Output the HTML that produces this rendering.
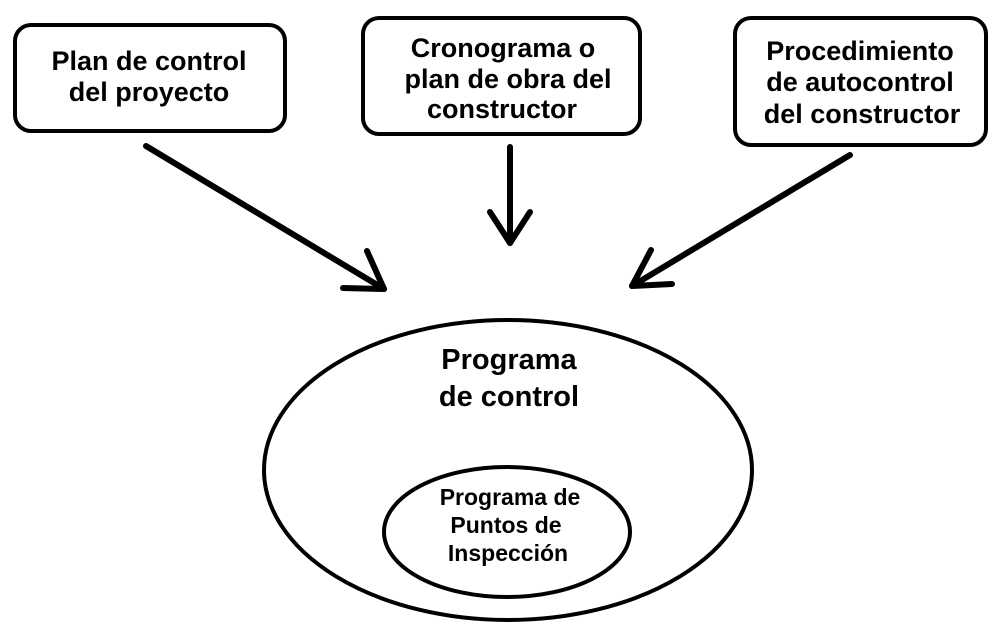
<!DOCTYPE html>
<html><head><meta charset="utf-8"><style>
body{margin:0;background:#fff;}
svg{display:block}
text{font-family:"Liberation Sans",Arial,sans-serif;font-weight:bold;fill:#000;text-anchor:middle}
</style></head><body>
<svg width="1007" height="637" viewBox="0 0 1007 637">
<g fill="none" stroke="#000" stroke-width="4">
<rect x="15" y="25" width="270" height="106" rx="16"/>
<rect x="363" y="18" width="277" height="116" rx="16"/>
<rect x="735" y="18" width="251" height="127" rx="16"/>
<ellipse cx="508" cy="470" rx="244" ry="150"/>
<ellipse cx="507" cy="532" rx="123" ry="65"/>
</g>
<g fill="none" stroke="#000" stroke-width="6" stroke-linecap="round" stroke-linejoin="round">
<line x1="146" y1="146" x2="384" y2="289"/>
<polyline points="367,251 384,289 343,288"/>
<line x1="510" y1="147" x2="510" y2="243"/>
<polyline points="490,212 510,243 530,212"/>
<line x1="850" y1="155" x2="632" y2="286"/>
<polyline points="651,250 632,286 672,284"/>
</g>
<text font-size="27"><tspan x="149" y="70">Plan de control</tspan><tspan x="149" y="101">del proyecto</tspan></text>
<text font-size="27"><tspan x="503" y="57">Cronograma o</tspan><tspan x="508" y="88">plan de obra del</tspan><tspan x="502" y="118">constructor</tspan></text>
<text font-size="27"><tspan x="860" y="60">Procedimiento</tspan><tspan x="860" y="91">de autocontrol</tspan><tspan x="862" y="123">del constructor</tspan></text>
<text font-size="29"><tspan x="509" y="369">Programa</tspan><tspan x="509" y="406">de control</tspan></text>
<text font-size="23"><tspan x="510" y="505">Programa de</tspan><tspan x="506" y="533">Puntos de</tspan><tspan x="508" y="561">Inspección</tspan></text>
</svg>
</body></html>
